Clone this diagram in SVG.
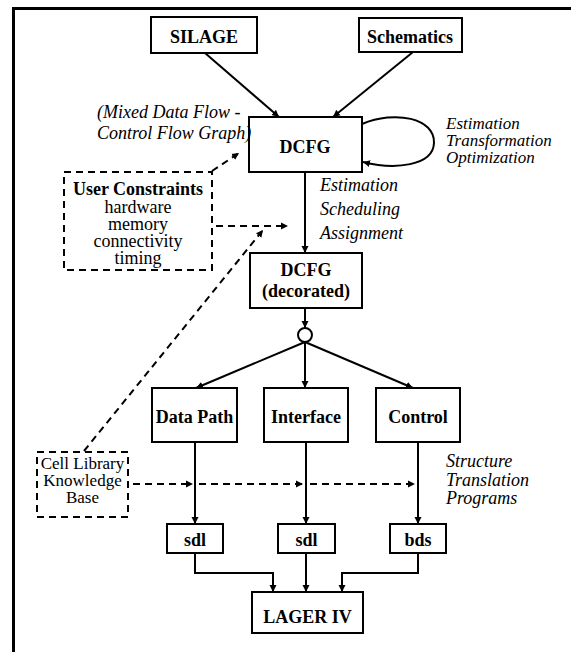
<svg xmlns="http://www.w3.org/2000/svg" width="571" height="652" viewBox="0 0 571 652">
<style>
.box{fill:#fff;stroke:#000;stroke-width:2}
.dbox{fill:none;stroke:#000;stroke-width:2;stroke-dasharray:7 5}
.b{font-family:"Liberation Serif",serif;font-weight:bold;font-size:18px;text-anchor:middle;fill:#000}
.r{font-family:"Liberation Serif",serif;font-size:18px;text-anchor:middle;fill:#000}
.i{font-family:"Liberation Serif",serif;font-style:italic;font-size:18px;fill:#000}
.i2{font-family:"Liberation Serif",serif;font-style:italic;font-size:17px;fill:#000}
.r2{font-family:"Liberation Serif",serif;font-size:17px;text-anchor:middle;fill:#000}
.c{fill:none;stroke:#000;stroke-width:2}
.d{fill:none;stroke:#000;stroke-width:2;stroke-dasharray:7 5}
</style>
<defs>
<marker id="ah" markerWidth="9" markerHeight="9" refX="7" refY="4" orient="auto" markerUnits="userSpaceOnUse">
<path d="M0,0.5 L7,4 L0,7.5 z" fill="#000"/>
</marker>
</defs>
<rect width="571" height="652" fill="#fff"/>
<path d="M13.5,652 L13.5,8.5 L571,8.5" fill="none" stroke="#000" stroke-width="3"/>

<g id="connectors">
<path class="c" d="M205,53 L279,117" marker-end="url(#ah)"/>
<path class="c" d="M413,52 L333,117" marker-end="url(#ah)"/>
<path class="c" d="M362,124 C395,110 435,118 434,143 C433,166 395,170 363,162" marker-end="url(#ah)"/>
<path class="c" d="M305,172 L305,253" marker-end="url(#ah)"/>
<path class="c" d="M305,308 L305,328" marker-end="url(#ah)"/>
<path class="c" d="M305,342 L196,388" marker-end="url(#ah)"/>
<path class="c" d="M305,342 L305,388" marker-end="url(#ah)"/>
<path class="c" d="M305,342 L413,388" marker-end="url(#ah)"/>
<path class="c" d="M195,442 L195,524" marker-end="url(#ah)"/>
<path class="c" d="M306,442 L306,524" marker-end="url(#ah)"/>
<path class="c" d="M418,442 L418,524" marker-end="url(#ah)"/>
<path class="c" d="M195,553 L195,573 L273,573 L273,592" marker-end="url(#ah)"/>
<path class="c" d="M306,553 L306,592" marker-end="url(#ah)"/>
<path class="c" d="M418,553 L418,573 L342,573 L342,592" marker-end="url(#ah)"/>
<path class="d" d="M216,226 L288,226" marker-end="url(#ah)"/>
<path class="d" d="M212,171 L239,153" marker-end="url(#ah)"/>
<path class="d" d="M84,451 L263,230" marker-end="url(#ah)"/>
<path class="d" d="M133,484 L193,484" marker-end="url(#ah)"/>
<path class="d" d="M199,484 L303,484" marker-end="url(#ah)"/>
<path class="d" d="M310,484 L415,484" marker-end="url(#ah)"/>
</g>

<g id="silage"><rect class="box" x="151" y="17" width="106" height="36"/><text class="b" x="204" y="43">SILAGE</text></g>
<g id="schematics"><rect class="box" x="359" y="18" width="103" height="34"/><text class="b" x="410" y="43">Schematics</text></g>
<g id="dcfg"><rect class="box" x="249" y="117" width="113" height="55"/><text class="b" x="305" y="153">DCFG</text></g>
<g id="dcfg-note"><text class="i" x="97" y="118">(Mixed Data Flow -</text><text class="i" x="97" y="139">Control Flow Graph)</text></g>
<g id="loop-label"><text class="i2" x="446" y="129">Estimation</text><text class="i2" x="446" y="146">Transformation</text><text class="i2" x="446" y="163">Optimization</text></g>
<g id="esa-label"><text class="i" x="320" y="191">Estimation</text><text class="i" x="320" y="215">Scheduling</text><text class="i" x="320" y="239">Assignment</text></g>
<g id="user-constraints"><rect class="dbox" x="64" y="172" width="148" height="98"/>
<text class="b" x="138" y="195">User Constraints</text>
<text class="r" x="138" y="213">hardware</text>
<text class="r" x="138" y="230">memory</text>
<text class="r" x="138" y="247">connectivity</text>
<text class="r" x="138" y="264">timing</text></g>
<g id="dcfg-decorated"><rect class="box" x="250" y="253" width="112" height="55"/><text class="b" x="306" y="276">DCFG</text><text class="b" x="306" y="297">(decorated)</text></g>
<g id="fork"><circle cx="305" cy="335" r="7" fill="#fff" stroke="#000" stroke-width="2"/></g>
<g id="datapath"><rect class="box" x="152" y="388" width="85" height="54"/><text class="b" x="194.5" y="423">Data Path</text></g>
<g id="interface"><rect class="box" x="264" y="388" width="84" height="54"/><text class="b" x="306" y="423">Interface</text></g>
<g id="control"><rect class="box" x="376" y="388" width="84" height="54"/><text class="b" x="418" y="423">Control</text></g>
<g id="stp-label"><text class="i" x="446" y="467">Structure</text><text class="i" x="446" y="486">Translation</text><text class="i" x="446" y="504">Programs</text></g>
<g id="cell-library"><rect class="dbox" x="37" y="452" width="91" height="65"/>
<text class="r2" x="82.5" y="469">Cell Library</text>
<text class="r2" x="82.5" y="486">Knowledge</text>
<text class="r2" x="82.5" y="503">Base</text></g>
<g id="sdl1"><rect class="box" x="167" y="524" width="56" height="29"/><text class="b" x="195" y="546">sdl</text></g>
<g id="sdl2"><rect class="box" x="278" y="524" width="57" height="29"/><text class="b" x="306.5" y="546">sdl</text></g>
<g id="bds"><rect class="box" x="390" y="524" width="56" height="29"/><text class="b" x="418" y="546">bds</text></g>
<g id="lager"><rect class="box" x="252" y="592" width="111" height="41"/><text class="b" x="307.5" y="623">LAGER IV</text></g>
</svg>
